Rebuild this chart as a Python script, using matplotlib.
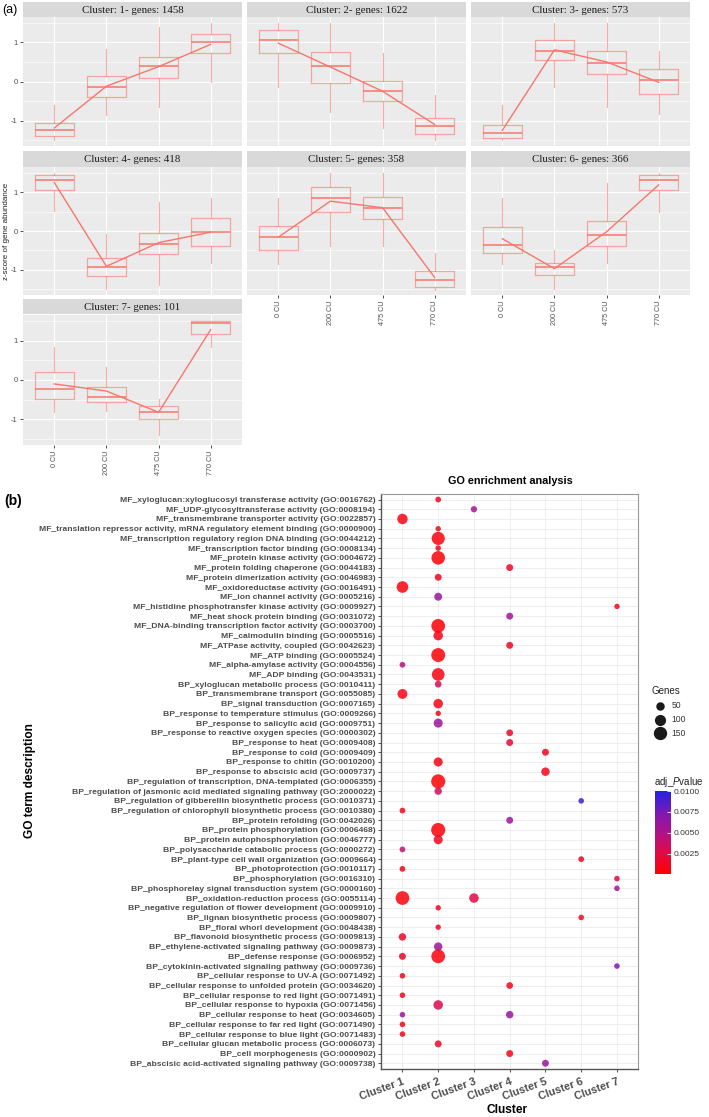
import matplotlib
matplotlib.use("Agg")
import matplotlib.pyplot as plt
from matplotlib.colors import LinearSegmentedColormap, Normalize
from matplotlib.cm import ScalarMappable

plt.rcParams["font.family"] = ["Liberation Sans", "DejaVu Sans"]
plt.rcParams["mathtext.fontset"] = "custom"
plt.rcParams["mathtext.rm"] = "Liberation Sans"
plt.rcParams["mathtext.it"] = "Liberation Sans:italic"

# ---------------- panel (a) data ----------------
conditions = ["0 CU", "200 CU", "475 CU", "770 CU"]
cluster_titles = ["Cluster: 1- genes: 1458", "Cluster: 2- genes: 1622", "Cluster: 3- genes: 573",
                  "Cluster: 4- genes: 418", "Cluster: 5- genes: 358", "Cluster: 6- genes: 366",
                  "Cluster: 7- genes: 101"]

whisk_hi = [[-0.60, 0.84, 1.40, 1.50], [1.50, 1.49, 0.73, -0.35], [-0.60, 1.49, 1.49, 0.79],
            [1.50, -0.08, 0.75, 0.85], [0.85, 1.50, 1.50, -0.57], [0.85, -0.50, 1.25, 1.50],
            [0.85, 0.34, -0.49, 1.51]]
q3 = [[-1.06, 0.14, 0.62, 1.22], [1.32, 0.75, 0.01, -0.93], [-1.12, 1.06, 0.78, 0.33],
      [1.44, -0.70, -0.05, 0.33], [0.13, 1.14, 0.88, -1.03], [0.11, -0.82, 0.25, 1.44],
      [0.20, -0.19, -0.66, 1.49]]
median = [[-1.25, -0.13, 0.39, 1.00], [1.06, 0.39, -0.24, -1.15], [-1.32, 0.79, 0.47, 0.03],
          [1.31, -0.92, -0.33, -0.03], [-0.16, 0.85, 0.60, -1.26], [-0.36, -0.93, -0.10, 1.31],
          [-0.23, -0.43, -0.80, 1.45]]
q1 = [[-1.40, -0.39, 0.10, 0.73], [0.73, -0.03, -0.49, -1.34], [-1.44, 0.54, 0.20, -0.33],
      [1.06, -1.17, -0.59, -0.38], [-0.49, 0.50, 0.31, -1.44], [-0.56, -1.13, -0.39, 1.05],
      [-0.49, -0.55, -1.00, 1.17]]
whisk_lo = [[-1.49, -0.85, -0.64, 0.00], [-0.15, -0.79, -1.19, -1.49], [-1.49, -0.15, -0.64, -0.83],
            [0.52, -1.49, -1.40, -0.82], [-0.86, -0.38, -0.38, -1.51], [-0.85, -1.49, -0.83, 0.50],
            [-0.81, -0.79, -1.39, 0.85]]
trend = [[-1.19, -0.12, 0.38, 0.95], [0.98, 0.37, -0.25, -1.10], [-1.25, 0.81, 0.50, -0.02],
         [1.25, -0.91, -0.30, -0.03], [-0.16, 0.77, 0.60, -1.20], [-0.20, -0.97, -0.02, 1.19],
         [-0.10, -0.28, -0.82, 1.28]]

# ---------------- panel (b) data ----------------
terms = [
    "MF_xyloglucan:xyloglucosyl transferase activity (GO:0016762)",
    "MF_UDP-glycosyltransferase activity (GO:0008194)",
    "MF_transmembrane transporter activity (GO:0022857)",
    "MF_translation repressor activity, mRNA regulatory element binding (GO:0000900)",
    "MF_transcription regulatory region DNA binding (GO:0044212)",
    "MF_transcription factor binding (GO:0008134)",
    "MF_protein kinase activity (GO:0004672)",
    "MF_protein folding chaperone (GO:0044183)",
    "MF_protein dimerization activity (GO:0046983)",
    "MF_oxidoreductase activity (GO:0016491)",
    "MF_ion channel activity (GO:0005216)",
    "MF_histidine phosphotransfer kinase activity (GO:0009927)",
    "MF_heat shock protein binding (GO:0031072)",
    "MF_DNA-binding transcription factor activity (GO:0003700)",
    "MF_calmodulin binding (GO:0005516)",
    "MF_ATPase activity, coupled (GO:0042623)",
    "MF_ATP binding (GO:0005524)",
    "MF_alpha-amylase activity (GO:0004556)",
    "MF_ADP binding (GO:0043531)",
    "BP_xyloglucan metabolic process (GO:0010411)",
    "BP_transmembrane transport (GO:0055085)",
    "BP_signal transduction (GO:0007165)",
    "BP_response to temperature stimulus (GO:0009266)",
    "BP_response to salicylic acid (GO:0009751)",
    "BP_response to reactive oxygen species (GO:0000302)",
    "BP_response to heat (GO:0009408)",
    "BP_response to cold (GO:0009409)",
    "BP_response to chitin (GO:0010200)",
    "BP_response to abscisic acid (GO:0009737)",
    "BP_regulation of transcription, DNA-templated (GO:0006355)",
    "BP_regulation of jasmonic acid mediated signaling pathway (GO:2000022)",
    "BP_regulation of gibberellin biosynthetic process (GO:0010371)",
    "BP_regulation of chlorophyll biosynthetic process (GO:0010380)",
    "BP_protein refolding (GO:0042026)",
    "BP_protein phosphorylation (GO:0006468)",
    "BP_protein autophosphorylation (GO:0046777)",
    "BP_polysaccharide catabolic process (GO:0000272)",
    "BP_plant-type cell wall organization (GO:0009664)",
    "BP_photoprotection (GO:0010117)",
    "BP_phosphorylation (GO:0016310)",
    "BP_phosphorelay signal transduction system (GO:0000160)",
    "BP_oxidation-reduction process (GO:0055114)",
    "BP_negative regulation of flower development (GO:0009910)",
    "BP_lignan biosynthetic process (GO:0009807)",
    "BP_floral whorl development (GO:0048438)",
    "BP_flavonoid biosynthetic process (GO:0009813)",
    "BP_ethylene-activated signaling pathway (GO:0009873)",
    "BP_defense response (GO:0006952)",
    "BP_cytokinin-activated signaling pathway (GO:0009736)",
    "BP_cellular response to UV-A (GO:0071492)",
    "BP_cellular response to unfolded protein (GO:0034620)",
    "BP_cellular response to red light (GO:0071491)",
    "BP_cellular response to hypoxia (GO:0071456)",
    "BP_cellular response to heat (GO:0034605)",
    "BP_cellular response to far red light (GO:0071490)",
    "BP_cellular response to blue light (GO:0071483)",
    "BP_cellular glucan metabolic process (GO:0006073)",
    "BP_cell morphogenesis (GO:0000902)",
    "BP_abscisic acid-activated signaling pathway (GO:0009738)",
]
cluster_labels = ["Cluster 1", "Cluster 2", "Cluster 3", "Cluster 4", "Cluster 5", "Cluster 6", "Cluster 7"]

# one entry per dot: term row (from top), cluster, gene count, adjusted p
dot_row = [0, 1, 2, 3, 4, 5, 6, 7, 8, 9, 10, 11, 12, 13, 14, 15, 16, 17, 18, 19,
           20, 21, 22, 23, 24, 25, 26, 27, 28, 29, 30, 31, 32, 33, 34, 35, 36, 37, 38, 39,
           40, 41, 41, 42, 43, 44, 45, 46, 47, 47, 48, 49, 50, 51, 52, 53, 53, 54, 55, 56,
           57, 58]
dot_cluster = [2, 3, 1, 2, 2, 2, 2, 4, 2, 1, 2, 7, 4, 2, 2, 4, 2, 1, 2, 2,
               1, 2, 2, 2, 4, 4, 5, 2, 5, 2, 2, 6, 1, 4, 2, 2, 1, 6, 1, 7,
               7, 1, 3, 2, 6, 2, 1, 2, 1, 2, 7, 1, 4, 1, 2, 1, 4, 1, 1, 2,
               4, 5]
dot_genes = [14, 20, 85, 10, 145, 12, 155, 28, 28, 110, 42, 10, 28, 160, 68, 28, 165, 14, 135, 25,
             75, 68, 10, 60, 25, 28, 28, 60, 50, 170, 35, 12, 14, 28, 170, 60, 14, 14, 14, 12,
             12, 160, 68, 10, 12, 10, 35, 50, 28, 160, 12, 12, 25, 12, 68, 12, 35, 12, 12, 28,
             28, 28]
dot_padj = [0.0012, 0.0055, 0.0008, 0.0010, 0.0005, 0.0010, 0.0004, 0.0015, 0.0012, 0.0006,
            0.0062, 0.0012, 0.0060, 0.0004, 0.0008, 0.0012, 0.0003, 0.0045, 0.0008, 0.0030,
            0.0010, 0.0008, 0.0010, 0.0060, 0.0015, 0.0020, 0.0012, 0.0008, 0.0010, 0.0003,
            0.0035, 0.0092, 0.0010, 0.0060, 0.0004, 0.0012, 0.0040, 0.0012, 0.0010, 0.0025,
            0.0055, 0.0005, 0.0025, 0.0012, 0.0012, 0.0012, 0.0015, 0.0060, 0.0015, 0.0005,
            0.0072, 0.0010, 0.0012, 0.0010, 0.0030, 0.0062, 0.0062, 0.0010, 0.0010, 0.0015,
            0.0010, 0.0062]

W, H = 709, 1117
fig = plt.figure(figsize=(W / 100, H / 100), dpi=100)


def px_axes(x0, y0, x1, y1):
    return fig.add_axes([x0 / W, 1 - y1 / H, (x1 - x0) / W, (y1 - y0) / H])


# ---------------- panel (a) ----------------
salmon = "#F8766D"
col_x = [(23, 242), (247, 466), (471, 690)]
row_y = [((2, 17), (17, 146)), ((151, 167), (167, 295)), ((299, 314), (315, 445))]
pos = [1, 2, 3, 4]

for k in range(7):
    r, c = divmod(k, 3)
    x0, x1 = col_x[c]
    (s0, s1), (p0, p1) = row_y[r]

    strip = px_axes(x0, s0, x1, s1)
    strip.set_facecolor("#D9D9D9")
    strip.set_xticks([])
    strip.set_yticks([])
    for sp in strip.spines.values():
        sp.set_visible(False)
    strip.text(0.5, 0.45, cluster_titles[k], ha="center", va="center",
               family="Liberation Serif", fontsize=7.8, color="#1A1A1A")

    ax = px_axes(x0, p0, x1, p1)
    ax.set_facecolor("#EBEBEB")
    stats = [dict(whislo=whisk_lo[k][j], q1=q1[k][j], med=median[k][j], q3=q3[k][j],
                  whishi=whisk_hi[k][j], fliers=[]) for j in range(4)]
    ax.bxp(stats, positions=pos, widths=0.75, showfliers=False, showcaps=False,
           boxprops=dict(color=salmon, alpha=0.6, lw=0.9),
           whiskerprops=dict(color=salmon, alpha=0.6, lw=0.8),
           medianprops=dict(color=salmon, alpha=0.85, lw=1.3), zorder=3)
    ax.plot(pos, trend[k], color=salmon, lw=1.0, zorder=4)

    ax.set_xlim(0.4, 4.6)
    ax.set_ylim(-1.65, 1.65)
    ax.set_yticks([-1, 0, 1])
    ax.set_yticks([-1.5, -0.5, 0.5, 1.5], minor=True)
    ax.set_xticks(pos)
    ax.grid(True, which="major", color="white", lw=0.8, zorder=0)
    ax.grid(True, which="minor", axis="y", color="white", lw=0.4, zorder=0)
    ax.set_axisbelow(True)
    for sp in ax.spines.values():
        sp.set_visible(False)
    ax.tick_params(which="major", length=2.5, width=0.6, color="#333333",
                   labelsize=5.5, labelcolor="#4D4D4D", pad=1.5)
    ax.tick_params(which="minor", length=0)
    if c == 0:
        ax.set_yticklabels(["-1", "0", "1"])
    else:
        ax.tick_params(axis="y", left=False, labelleft=False)
    if k in (4, 5, 6):
        ax.set_xticklabels(conditions, rotation=90, fontsize=5.2)
    else:
        ax.tick_params(axis="x", bottom=False, labelbottom=False)

fig.text(2 / W, 1 - 10 / H, "(a)", fontsize=9, va="center", ha="left")
fig.text(7 / W, 1 - 231 / H, "z-score of gene abundance", rotation=90, fontsize=5.8,
         color="#222222", ha="center", va="center")

# ---------------- panel (b) ----------------
cmap = LinearSegmentedColormap.from_list(
    "pval", ["#FF0000", "#E00A45", "#B0128A", "#7A18B8", "#2222E0"])
norm = Normalize(vmin=0.0001, vmax=0.0100)


def size_of(g):
    return 9.5 + 0.55 * g


n = len(terms)
axb = px_axes(381, 493.7, 638.4, 1069.1)
yvals = [n - 1 - r for r in dot_row]
axb.scatter(dot_cluster, yvals, s=[size_of(g) for g in dot_genes], c=dot_padj,
            cmap=cmap, norm=norm, alpha=0.85, linewidths=0, zorder=3)
axb.set_xlim(0.4, 7.6)
axb.set_ylim(-0.6, n - 0.4)
axb.set_yticks(range(n))
axb.set_yticklabels(terms[::-1], fontsize=6.1, fontweight="bold", color="#4D4D4D")
axb.set_xticks(range(1, 8))
axb.set_xticklabels(cluster_labels, rotation=20, ha="right", va="top", rotation_mode="anchor",
                    fontsize=7.8, fontweight="bold", color="#4D4D4D")
axb.grid(True, color="#EBEBEB", lw=0.6, zorder=0)
axb.set_axisbelow(True)
for side in ("top", "right"):
    axb.spines[side].set_color("#999999")
    axb.spines[side].set_linewidth(0.8)
for side in ("left", "bottom"):
    axb.spines[side].set_color("#555555")
    axb.spines[side].set_linewidth(1.0)
axb.tick_params(length=2.5, width=0.6, color="#333333", pad=1.5)
axb.tick_params(axis="x", pad=3)

fig.text(510 / W, 1 - 481 / H, "GO enrichment analysis", fontsize=7.8, fontweight="bold",
         ha="center", va="center")
fig.text(30 / W, 1 - 781 / H, "GO term description", fontsize=8.6, fontweight="bold",
         rotation=90, ha="center", va="center")
fig.text(507 / W, 1 - 1110 / H, "Cluster", fontsize=8.6, fontweight="bold",
         ha="center", va="center")
fig.text(4 / W, 1 - 501 / H, "(b)", fontsize=10, fontweight="bold", ha="left", va="center")

# size legend
handles = [axb.scatter([], [], s=size_of(g), color="#1A1A1A", linewidths=0) for g in (50, 100, 150)]
leg = fig.legend(handles, ["50", "100", "150"], title="Genes", loc="upper left",
                 bbox_to_anchor=(648 / W, 1 - 683 / H), frameon=False, fontsize=6.2,
                 title_fontsize=7, labelspacing=0.55, handletextpad=0.3, borderaxespad=0)
leg._legend_box.align = "left"
leg.get_title().set_color("#222222")
for t in leg.get_texts():
    t.set_color("#333333")

# colour legend
fig.text(654 / W, 1 - 782 / H, r"adj_$\it{P}$value", fontsize=7, color="#222222",
         ha="left", va="center")
cax = px_axes(655, 791, 671, 874)
cb = fig.colorbar(ScalarMappable(norm=norm, cmap=cmap), cax=cax,
                  ticks=[0.0025, 0.0050, 0.0075, 0.0100], format="%.4f")
cb.outline.set_visible(False)
cax.tick_params(length=3, width=0.6, color="white", direction="in", labelsize=6,
                labelcolor="#333333", pad=2)

fig.savefig("out.png", dpi=100)
